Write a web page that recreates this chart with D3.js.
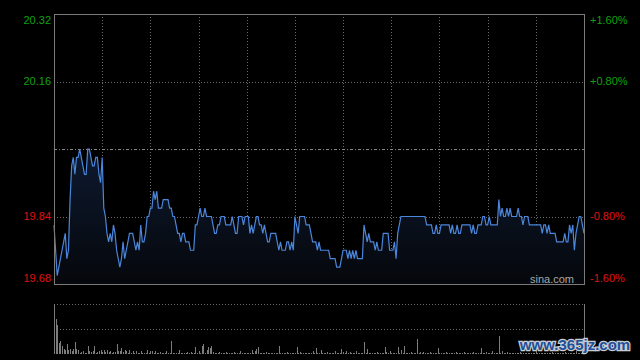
<!DOCTYPE html>
<html lang="zh">
  <head>
    <meta charset="utf-8"/>
    <style>
      body {
        margin: 0;
        background: #000;
      }
      svg text {
        font-family: "Liberation Sans", Arial, sans-serif;
      }
    </style>
    <script src="https://cdn.jsdelivr.net/npm/d3@7"></script>
  </head>
  <body>
    <script type="text/javascript">
      // global values
      var w = 640;
      var h = 360;
      var prevClose = 20.00;

      // minute prices, 331 minutes (09:30-12:00, 13:00-16:00)
      var prices = [
        19.82,19.76,19.70,19.72,19.74,19.76,19.78,19.80,19.74,19.76,
        19.88,19.96,19.98,19.94,19.98,19.98,20.00,19.98,19.96,19.94,
        19.94,20.00,20.00,19.98,19.96,19.96,19.98,19.98,19.94,19.92,
        19.98,19.86,19.84,19.80,19.78,19.80,19.78,19.82,19.80,19.76,
        19.74,19.72,19.74,19.78,19.74,19.76,19.78,19.80,19.80,19.80,
        19.78,19.76,19.78,19.76,19.82,19.78,19.78,19.80,19.84,19.84,
        19.86,19.86,19.90,19.88,19.90,19.86,19.86,19.86,19.88,19.88,
        19.88,19.88,19.86,19.86,19.84,19.84,19.82,19.80,19.80,19.78,
        19.80,19.80,19.78,19.78,19.78,19.76,19.76,19.76,19.82,19.82,
        19.84,19.86,19.84,19.84,19.86,19.84,19.84,19.84,19.84,19.82,
        19.80,19.80,19.82,19.82,19.84,19.84,19.84,19.82,19.82,19.82,
        19.82,19.84,19.82,19.80,19.80,19.84,19.84,19.84,19.82,19.84,
        19.84,19.84,19.80,19.82,19.80,19.82,19.84,19.84,19.82,19.82,
        19.80,19.82,19.80,19.78,19.78,19.80,19.80,19.80,19.80,19.78,
        19.76,19.78,19.76,19.76,19.76,19.78,19.78,19.76,19.78,19.76,
        19.84,19.82,19.80,19.84,19.84,19.84,19.84,19.82,19.82,19.82,
        19.80,19.78,19.78,19.78,19.76,19.78,19.76,19.76,19.76,19.76,
        19.76,19.76,19.74,19.74,19.74,19.74,19.72,19.72,19.72,19.74,
        19.76,19.76,19.76,19.74,19.76,19.74,19.76,19.74,19.76,19.74,
        19.74,19.74,19.74,19.82,19.80,19.78,19.80,19.78,19.78,19.78,
        19.76,19.78,19.76,19.76,19.76,19.80,19.80,19.80,19.80,19.76,
        19.76,19.76,19.78,19.74,19.80,19.82,19.84,19.84,19.84,19.84,
        19.84,19.84,19.84,19.84,19.84,19.84,19.84,19.84,19.84,19.84,
        19.84,19.84,19.82,19.82,19.82,19.82,19.80,19.80,19.82,19.80,
        19.80,19.82,19.82,19.82,19.82,19.82,19.82,19.80,19.82,19.80,
        19.80,19.82,19.80,19.80,19.82,19.82,19.82,19.82,19.82,19.82,
        19.80,19.82,19.80,19.80,19.82,19.82,19.82,19.84,19.84,19.82,
        19.82,19.84,19.82,19.82,19.82,19.82,19.82,19.88,19.84,19.86,
        19.84,19.84,19.86,19.84,19.86,19.84,19.84,19.84,19.84,19.86,
        19.84,19.84,19.82,19.84,19.84,19.84,19.82,19.82,19.82,19.82,
        19.82,19.82,19.82,19.82,19.80,19.82,19.82,19.80,19.82,19.80,
        19.80,19.80,19.80,19.78,19.78,19.78,19.78,19.78,19.80,19.78,
        19.78,19.82,19.80,19.82,19.76,19.80,19.82,19.84,19.84,19.82,
        19.80
      ];

      // minute volumes (relative units)
      var volumes = [
        50,35,29,11,13,8,5,4,10,4,
        5,3,5,12,5,4,1,2,3,1,
        1,8,3,2,3,8,1,2,3,4,
        2,4,2,4,2,3,1,2,2,10,
        3,3,6,2,4,3,1,4,1,3,
        1,3,1,1,3,1,1,1,4,1,
        3,3,1,3,1,1,2,1,1,1,
        3,1,1,13,1,1,1,1,4,1,
        1,1,1,2,1,2,1,1,7,1,
        3,1,8,10,1,4,7,6,8,2,
        1,1,1,2,1,1,1,2,1,1,
        1,1,2,1,1,1,3,1,1,1,
        1,1,1,4,1,3,5,7,1,1,
        1,1,2,1,1,1,1,1,1,1,
        8,1,1,1,1,2,1,1,1,1,
        1,7,1,2,1,1,1,1,1,1,
        1,3,1,6,1,1,4,1,1,1,
        2,1,1,1,1,3,1,1,1,5,
        2,1,3,1,2,1,1,1,3,1,
        1,1,1,12,1,5,1,1,1,1,
        1,2,1,1,1,1,7,2,1,3,
        1,1,1,1,7,1,4,1,8,1,
        1,1,2,1,1,1,15,1,2,1,
        2,1,1,1,2,1,1,1,1,6,
        1,1,1,1,2,1,1,1,1,1,
        2,1,1,1,1,2,1,1,1,1,
        1,2,1,1,1,1,6,1,1,2,
        1,1,1,3,1,1,1,18,1,3,
        1,1,2,1,1,1,1,1,1,1,
        2,1,1,1,1,1,1,1,1,1,
        3,1,1,1,1,1,1,1,1,1,
        2,1,1,1,1,1,1,1,2,1,
        1,1,1,1,1,3,1,1,1,2,
        1
      ];

      // axis labels
      var priceTicks = [20.32, 20.16, 19.84, 19.68];
      var pctTicks = ["+1.60%", "+0.80%", "-0.80%", "-1.60%"];
      var gridPrices = [20.16, 19.84];
      var timeSlots = d3.range(1, 11).map(function(k) { return k * 30; });

      var svg = d3.select("body")
                  .append("svg")
                  .attr("width", w)
                  .attr("height", h)
                  .style("background", "#000");

      // scales
      var xScale = d3.scaleLinear().domain([0, 330]).range([54, 584]);
      var yScale = d3.scaleLinear().domain([19.68, 20.32]).range([284, 14]);
      var vScale = d3.scaleLinear().domain([0, 50]).range([354, 304]);

      // fill gradient under the price line
      var grad = svg.append("defs").append("linearGradient")
                    .attr("id", "area")
                    .attr("gradientUnits", "userSpaceOnUse")
                    .attr("x1", 0).attr("x2", 0)
                    .attr("y1", yScale(20.00)).attr("y2", yScale(19.68));
      grad.append("stop").attr("offset", "0%").attr("stop-color", "#0e1a30");
      grad.append("stop").attr("offset", "100%").attr("stop-color", "#05070b");

      // vertical grid (every 30 minutes)
      svg.selectAll(".vgrid")
         .data(timeSlots)
         .enter()
         .append("line")
         .attr("x1", function(d) { return Math.round(xScale(d)) + 0.5; })
         .attr("x2", function(d) { return Math.round(xScale(d)) + 0.5; })
         .attr("y1", yScale(20.32))
         .attr("y2", yScale(19.68))
         .attr("stroke", "#6a6a6a")
         .attr("stroke-dasharray", "1,2");

      // horizontal grid
      svg.selectAll(".hgrid")
         .data(gridPrices)
         .enter()
         .append("line")
         .attr("x1", xScale(0))
         .attr("x2", xScale(330))
         .attr("y1", function(d) { return Math.round(yScale(d)) + 0.5; })
         .attr("y2", function(d) { return Math.round(yScale(d)) + 0.5; })
         .attr("stroke", "#6a6a6a")
         .attr("stroke-dasharray", "1,2");

      // area + line
      var area = d3.area()
                   .x(function(d, i) { return xScale(i); })
                   .y0(yScale(19.68))
                   .y1(function(d) { return yScale(d); });
      var line = d3.line()
                   .x(function(d, i) { return xScale(i); })
                   .y(function(d) { return yScale(d); });

      svg.append("path")
         .datum(prices)
         .attr("d", area)
         .attr("fill", "url(#area)");

      // previous close line
      svg.append("line")
         .attr("x1", xScale(0))
         .attr("x2", xScale(330))
         .attr("y1", Math.round(yScale(prevClose)) + 0.5)
         .attr("y2", Math.round(yScale(prevClose)) + 0.5)
         .attr("stroke", "#8a8a8a")
         .attr("stroke-dasharray", "3,2,1,2");

      svg.append("path")
         .datum(prices)
         .attr("d", line)
         .attr("fill", "none")
         .attr("stroke", "#4a86dc")
         .attr("stroke-width", 1.2);

      // frame of price panel
      svg.append("rect")
         .attr("x", 54.5)
         .attr("y", 14.5)
         .attr("width", 530)
         .attr("height", 270)
         .attr("fill", "none")
         .attr("stroke", "#7a7a7a");

      // price labels left, percent labels right
      function labelY(d, i) {
        if (i === 0) return yScale(d) + 6;
        if (i === priceTicks.length - 1) return yScale(d) - 6;
        return yScale(d);
      }
      function labelColor(d) {
        return d > prevClose ? "#10a010" : "#e01010";
      }
      svg.selectAll(".plabel")
         .data(priceTicks)
         .enter()
         .append("text")
         .attr("x", 51)
         .attr("y", labelY)
         .attr("dy", "0.35em")
         .attr("text-anchor", "end")
         .attr("font-size", "11px")
         .attr("fill", labelColor)
         .text(function(d) { return d.toFixed(2); });

      svg.selectAll(".rlabel")
         .data(priceTicks)
         .enter()
         .append("text")
         .attr("x", 590)
         .attr("y", labelY)
         .attr("dy", "0.35em")
         .attr("text-anchor", "start")
         .attr("font-size", "11px")
         .attr("fill", labelColor)
         .text(function(d, i) { return pctTicks[i]; });

      // sina mark
      svg.append("text")
         .attr("x", 574)
         .attr("y", 279)
         .attr("dy", "0.35em")
         .attr("text-anchor", "end")
         .attr("font-size", "11px")
         .attr("fill", "#a8a8a8")
         .text("sina.com");

      // volume panel grid
      svg.selectAll(".vol-grid")
         .data([50, 25])
         .enter()
         .append("line")
         .attr("x1", xScale(0))
         .attr("x2", xScale(330))
         .attr("y1", function(d) { return Math.round(vScale(d)) + 0.5; })
         .attr("y2", function(d) { return Math.round(vScale(d)) + 0.5; })
         .attr("stroke", "#6a6a6a")
         .attr("stroke-dasharray", "1,2");

      // volume bars
      svg.selectAll(".vol")
         .data(volumes)
         .enter()
         .append("rect")
         .attr("x", function(d, i) { return Math.round(xScale(i)); })
         .attr("y", function(d) { return vScale(d); })
         .attr("width", 1)
         .attr("height", function(d) { return vScale(0) - vScale(d); })
         .attr("fill", "#7c7c7c");

      // volume panel sides
      svg.selectAll(".vol-side")
         .data([0, 330])
         .enter()
         .append("line")
         .attr("x1", function(d) { return Math.round(xScale(d)) + 0.5; })
         .attr("x2", function(d) { return Math.round(xScale(d)) + 0.5; })
         .attr("y1", vScale(50))
         .attr("y2", vScale(0))
         .attr("stroke", "#7a7a7a");

      // watermark
      svg.append("text")
         .attr("x", 575)
         .attr("y", 345)
         .attr("dy", "0.35em")
         .attr("text-anchor", "middle")
         .attr("font-family", "DejaVu Sans, sans-serif")
         .attr("font-weight", "bold")
         .attr("font-size", "15px")
         .attr("fill", "#1f4f96")
         .attr("stroke", "#c8ccd4")
         .attr("stroke-width", 2.5)
         .attr("paint-order", "stroke")
         .text("www.365jz.com");
    </script>
  </body>
</html>
